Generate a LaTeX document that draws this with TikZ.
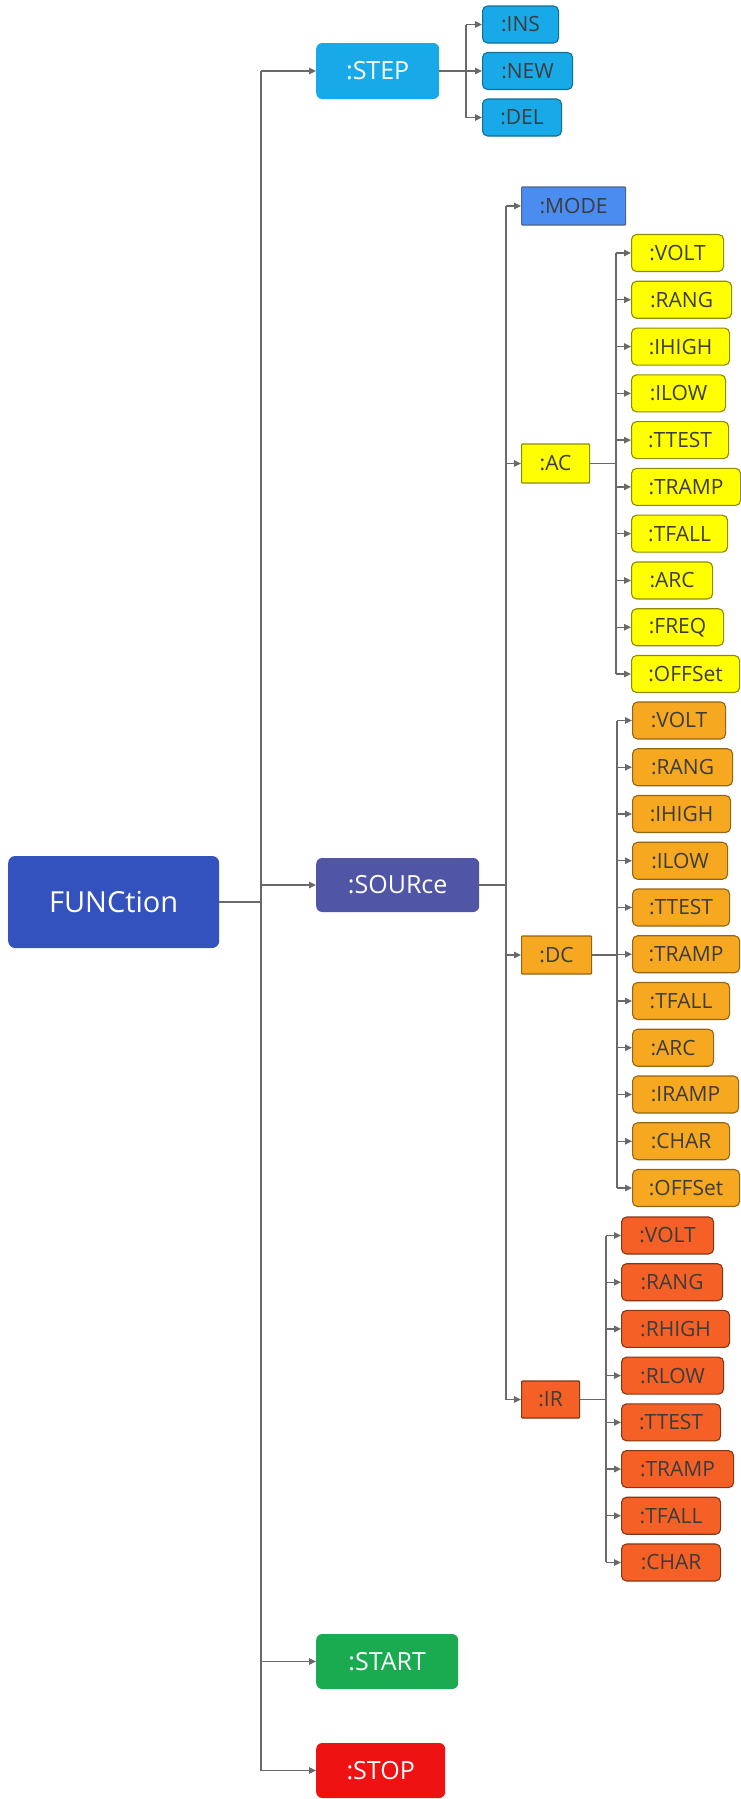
\documentclass[tikz,border=0pt]{standalone}
\usepackage{fontspec}
\setmainfont{Open Sans}
\usetikzlibrary{arrows.meta}
\definecolor{cfunc}{RGB}{52,82,190}
\definecolor{csrc}{RGB}{80,86,165}
\definecolor{cstep}{RGB}{24,170,232}
\definecolor{cmode}{RGB}{74,140,240}
\definecolor{cac}{RGB}{255,255,0}
\definecolor{cdc}{RGB}{246,168,32}
\definecolor{cir}{RGB}{244,96,38}
\definecolor{cstart}{RGB}{26,170,80}
\definecolor{cstop}{RGB}{238,18,18}
\definecolor{cline}{RGB}{105,105,105}
\definecolor{ctxt}{RGB}{60,60,60}
\tikzset{
  big/.style={rounded corners=6pt, inner sep=0pt, text=white, anchor=west,
    font=\fontsize{25}{28}\selectfont},
  small/.style={rounded corners=5pt, inner sep=0pt, text=ctxt, anchor=west,
    line width=1.1pt, minimum height=37pt, font=\fontsize{21}{24}\selectfont},
  square/.style={small, rounded corners=0.8pt},
  stepc/.style={small, fill=cstep, draw=cstep!65!black},
  acc/.style={small, fill=cac, draw=cac!55!black},
  dcc/.style={small, fill=cdc, draw=cdc!60!black},
  irc/.style={small, fill=cir, draw=cir!55!black},
  conn/.style={draw=cline, line width=1.3pt},
  arr/.style={conn, -{Triangle[length=7pt,width=6.5pt]}},
}
\begin{document}
\begin{tikzpicture}[x=1pt,y=-1pt]
\useasboundingbox[fill=white] (0,0) rectangle (740,1799);

% main nodes
\node[big, fill=cfunc, minimum width=211pt, minimum height=92pt, rounded corners=7pt,
  font=\fontsize{29}{32}\selectfont] (func) at (8,902) {FUNCtion};
\node[big, fill=cstep, minimum width=123pt, minimum height=56pt] (step) at (316,71) {:STEP};
\node[big, fill=csrc, minimum width=163pt, minimum height=54pt] (src) at (316,885) {:SOURce};
\node[big, fill=cstart, minimum width=142pt, minimum height=55pt] (start) at (316,1661.5) {:START};
\node[big, fill=cstop, minimum width=129pt, minimum height=55pt] (stop) at (316,1770.5) {:STOP};

% trunk
\coordinate (trunk) at (261,0);
\draw[conn] (func.east) -- (func.east -| trunk);
\draw[conn] (step.west -| trunk) -- (stop.west -| trunk);
\foreach \n in {step,src,start,stop}
  \draw[arr] (\n.west -| trunk) -- (\n.west);

% STEP children
\node[stepc, minimum width=76pt] (ins) at (482,24.5) {:INS};
\node[stepc, minimum width=90pt] (new) at (482,71) {:NEW};
\node[stepc, minimum width=79pt] (del) at (482,117.5) {:DEL};
\coordinate (stepb) at (466,0);
\draw[conn] (step.east) -- (step.east -| stepb);
\draw[conn] (ins.west -| stepb) -- (del.west -| stepb);
\foreach \n in {ins,new,del}
  \draw[arr] (\n.west -| stepb) -- (\n.west);

% SOURce children
\node[square, fill=cmode, draw=cmode!45!black!80, minimum width=104pt, minimum height=38pt] (mode) at (521,206) {:MODE};
\node[square, fill=cac, draw=cac!55!black, minimum width=68pt, minimum height=39pt] (ac) at (521,463.5) {:AC};
\node[square, fill=cdc, draw=cdc!60!black, minimum width=70pt, minimum height=38pt] (dc) at (521,955) {:DC};
\node[square, fill=cir, draw=cir!55!black, minimum width=58pt, minimum height=37pt] (ir) at (521,1399.5) {:IR};
\coordinate (srcb) at (506,0);
\draw[conn] (src.east) -- (src.east -| srcb);
\draw[conn] (mode.west -| srcb) -- (ir.west -| srcb);
\foreach \n in {mode,ac,dc,ir}
  \draw[arr] (\n.west -| srcb) -- (\n.west);

% AC children
\coordinate (acb) at (616,0);
\foreach \nm/\txt/\w [count=\i from 0] in {volt/:VOLT/92, rang/:RANG/100, ihigh/:IHIGH/98,
    ilow/:ILOW/94, ttest/:TTEST/97, tramp/:TRAMP/109, tfall/:TFALL/96, arc/:ARC/81,
    freq/:FREQ/92, offs/:OFFSet/108}{
  \node[acc, minimum width=\w pt] (ac\nm) at (631,253+\i*46.78) {\txt};
  \draw[arr] (ac\nm.west -| acb) -- (ac\nm.west);
}
\draw[conn] (ac.east) -- (ac.east -| acb);
\draw[conn] (acvolt.west -| acb) -- (acoffs.west -| acb);

% DC children
\coordinate (dcb) at (617,0);
\foreach \nm/\txt/\w [count=\i from 0] in {volt/:VOLT/93, rang/:RANG/100, ihigh/:IHIGH/98,
    ilow/:ILOW/95, ttest/:TTEST/97, tramp/:TRAMP/107, tfall/:TFALL/97, arc/:ARC/81,
    iramp/:IRAMP/106, char/:CHAR/97, offs/:OFFSet/107}{
  \node[dcc, minimum width=\w pt] (dc\nm) at (632,720.5+\i*46.75) {\txt};
  \draw[arr] (dc\nm.west -| dcb) -- (dc\nm.west);
}
\draw[conn] (dc.east) -- (dc.east -| dcb);
\draw[conn] (dcvolt.west -| dcb) -- (dcoffs.west -| dcb);

% IR children
\coordinate (irb) at (606,0);
\foreach \nm/\txt/\w [count=\i from 0] in {volt/:VOLT/92, rang/:RANG/101, rhigh/:RHIGH/108,
    rlow/:RLOW/102, ttest/:TTEST/99, tramp/:TRAMP/112, tfall/:TFALL/99, char/:CHAR/99}{
  \node[irc, minimum width=\w pt] (ir\nm) at (621,1235.5+\i*46.71) {\txt};
  \draw[arr] (ir\nm.west -| irb) -- (ir\nm.west);
}
\draw[conn] (ir.east) -- (ir.east -| irb);
\draw[conn] (irvolt.west -| irb) -- (irchar.west -| irb);
\end{tikzpicture}
\end{document}
